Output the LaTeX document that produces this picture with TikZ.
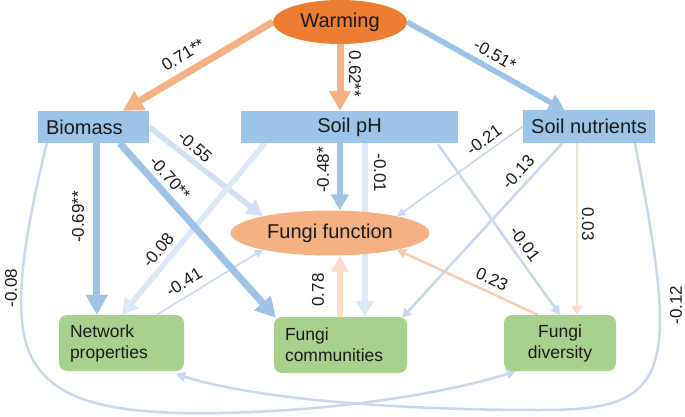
\documentclass[tikz,border=0pt]{standalone}
\usepackage{fontspec}
\setmainfont{Liberation Sans}
\usetikzlibrary{arrows.meta, calc, shapes.geometric}
\pgfdeclarelayer{bg}
\pgfsetlayers{bg,main}
\definecolor{cWarm}{HTML}{ED7D31}
\definecolor{cFun}{HTML}{F4B183}
\definecolor{cBox}{HTML}{9DC3E6}
\definecolor{cGrn}{HTML}{A9D18E}
\definecolor{cPale}{HTML}{D3DFF2}
\definecolor{cPaleB}{HTML}{DCE8F6}
\definecolor{cThin}{HTML}{C9D8EF}
\definecolor{cPeach}{HTML}{FBDDC9}
\definecolor{cPeachB}{HTML}{F8CDB0}
\definecolor{cInk}{HTML}{1A1A1A}

\begin{document}
\begin{tikzpicture}[x=1pt,y=-1pt,font=\fontsize{20}{24}\selectfont,
  oval/.style={ellipse,inner sep=0pt,text=cInk},
  boxv/.style={fill=cBox,minimum height=32pt,inner ysep=0pt,text=cInk},
  resp/.style={fill=cGrn,rounded corners=8pt,minimum height=56pt,inner xsep=11pt,inner ysep=0pt,align=left,font=\fontsize{17.5}{21}\selectfont,text=cInk},
  arrbig/.style={line width=7pt,-{Triangle[width=21pt,length=20pt]}},
  arrmid/.style={line width=5.5pt,-{Triangle[width=17pt,length=16pt]}},
  arrthin/.style={line width=2.5pt,-{Triangle[width=10pt,length=9pt]}},
  arrfine/.style={line width=1.6pt,-{Triangle[width=8pt,length=8pt]}},
  lbl/.style={font=\fontsize{17}{20}\selectfont,text=cInk,inner sep=0pt}]
  \useasboundingbox (0,0) rectangle (685,417);
  % variables
  \node[oval,fill=cWarm,minimum width=134pt,minimum height=44pt] (warm) at (340,22) {Warming};
  \node[boxv,text width=95pt,inner xsep=8pt,align=left] (bio) at (93.5,127) {Biomass};
  \node[boxv,minimum width=217pt] (ph) at (349.5,127) {Soil pH};
  \node[boxv,minimum width=132pt] (nut) at (589,126.5) {Soil nutrients};
  \node[oval,fill=cFun,minimum width=199pt,minimum height=45pt] (fun) at (330,233) {Fungi function};
  \node[resp,text width=103pt] (net) at (121.5,343) {Network\\properties};
  \node[resp,text width=111pt] (comm) at (340.5,345) {Fungi\\communities};
  \node[resp,text width=90pt,align=center] (div) at (560,343) {Fungi\\diversity};
  % start points
  \coordinate (ph1) at ($(ph.south west)+(24,0)$);
  \coordinate (ph2) at ($(ph.south west)+(99,0)$);
  \coordinate (ph3) at ($(ph.south west)+(124,0)$);
  \coordinate (ph4) at ($(ph.south west)+(197,1)$);
  \coordinate (nu1) at ($(nut.south west)+(40,0)$);
  \coordinate (nu2) at ($(nut.south west)+(54,0)$);
  \coordinate (nu3) at ($(nut.south west)+(112,0)$);
  \coordinate (co1) at ($(comm.north west)+(66,0)$);
  \begin{pgfonlayer}{bg}
  % long curves
  \draw[arrthin,cThin] ($(bio.south west)+(9,0)$) .. controls (28,220) and (18,280) .. (22,320) .. controls (28,400) and (100,415) .. (220,413) .. controls (330,411) and (440,395) .. ($(div.south west)+(12,0)$);
  \draw[arrthin,cThin] (nu3) .. controls (650,220) and (660,280) .. (660,320) .. controls (660,400) and (620,410) .. (540,410) .. controls (400,410) and (260,400) .. ($(net.south east)+(-8,3)$);
  % paths
  \draw[arrfine,cThin] (nut.west) -- (fun.14); \draw[arrfine,cThin] ($(net.north west)+(98,0)$) -- (fun.194);
  \draw[arrthin,cThin] (ph4) -- (div.north); \draw[arrthin,cThin] (nu1) -- ($(comm.north east)+(-5,1)$);
  \draw[arrthin,cPeach] (nu2) -- (nu2 |- div.north); \draw[arrthin,cPeachB] ($(div.north west)+(34,0)$) -- (fun.-14);
  \draw[arrmid,cPale] (bio.east) -- (fun.166); \draw[arrmid,cPaleB] (ph1) -- ($(net.north west)+(63,0)$);
  \draw[arrmid,cPaleB] (ph3) -- (ph3 |- comm.north); \draw[arrmid,cPeach] (co1) -- (co1 |- fun.south);
  \draw[arrbig,cFun] (warm.west) -- ($(bio.north west)+(85,0)$); \draw[arrbig,cFun] (warm.south) -- (warm.south |- ph.north);
  \draw[arrmid,cBox] (warm.east) -- ($(nut.north west)+(42,0)$);
  \draw[arrbig,cBox] ($(bio.south west)+(59,0)$) -- ($(net.north west)+(38,0)$);
  \draw[arrbig,cBox] ($(bio.south west)+(82,0)$) -- ($(comm.north west)+(2,1)$);
  \draw[arrmid,cBox] (ph2) -- (ph2 |- fun.north);
  \end{pgfonlayer}
  % coefficients
  \node[lbl,rotate=30.7] (l71) at (183,55) {0.71**};
  \node[lbl,rotate=-90] (l62) at (355,74) {0.62**};
  \node[lbl,rotate=-29.5] (l51) at (495,55) {-0.51*};
  \node[lbl,rotate=90] (l69) at (78,217) {-0.69**};
  \node[lbl,rotate=-48.5] (l70) at (170,178) {-0.70**};
  \node[lbl,rotate=-41] (l55) at (195,147) {-0.55};
  \node[lbl,rotate=90] (l08a) at (11,288) {-0.08};
  \node[lbl,rotate=50] (l08b) at (158,250) {-0.08};
  \node[lbl,rotate=90] (l48) at (323,170) {-0.48*};
  \node[lbl,rotate=-90] (l01a) at (380,173) {-0.01};
  \node[lbl,rotate=32] (l41) at (184,282) {-0.41};
  \node[lbl,rotate=90] (l78) at (318,290) {0.78};
  \node[lbl,rotate=36] (l21) at (484,140) {-0.21};
  \node[lbl,rotate=47] (l13) at (518,172) {-0.13};
  \node[lbl,rotate=-54] (l01b) at (525,244) {-0.01};
  \node[lbl,rotate=-90] (l03) at (588,224) {0.03};
  \node[lbl,rotate=-25] (l23) at (492,279) {0.23};
  \node[lbl,rotate=90] (l12) at (676,305) {-0.12};
\end{tikzpicture}
\end{document}
